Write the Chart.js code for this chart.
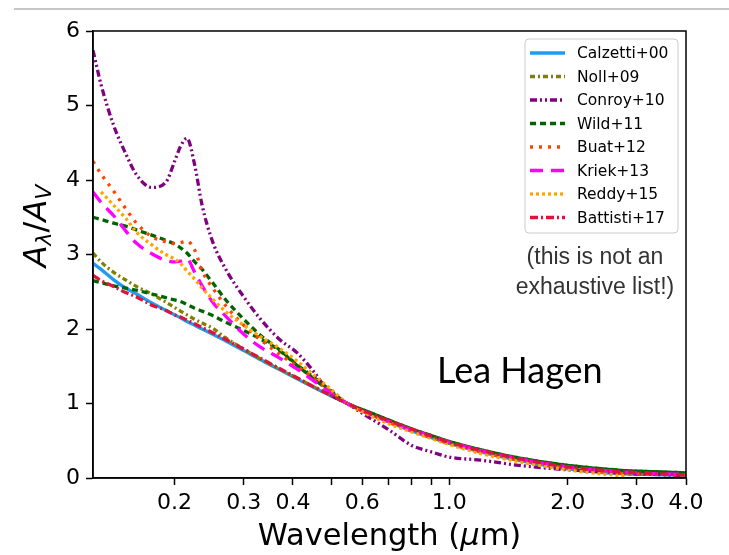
<!DOCTYPE html>
<html lang="en">
<head>
<meta charset="UTF-8">
<title>Attenuation curves</title>
<script src="https://cdn.jsdelivr.net/npm/chart.js@4"></script>
<style>
  body { margin: 0; background: #fff; }
  #wrap { position: relative; width: 729px; height: 555px; }
</style>
</head>
<body>
<div id="wrap"><canvas id="curves"></canvas></div>
<script>
// wavelength grid (micron), shared by all curves
const wavelength = [0.124, 0.13, 0.14, 0.15, 0.16, 0.175, 0.19, 0.2, 0.207, 0.215, 0.225, 0.235, 0.25, 0.27, 0.3, 0.33, 0.37, 0.41, 0.45, 0.5,
                    0.55, 0.6, 0.7, 0.8, 0.9, 1.0, 1.2, 1.5, 2.0, 2.5, 2.8, 3.3, 4.0];

// A_lambda / A_V
const calzetti = [2.88, 2.80, 2.66, 2.55, 2.47, 2.35, 2.25, 2.19, 2.15, 2.10, 2.05, 2.00, 1.93, 1.84, 1.71, 1.59, 1.455, 1.33, 1.22, 1.10,
                  1.00, 0.91, 0.756, 0.634, 0.54, 0.463, 0.35, 0.236, 0.122, 0.07, 0.055, 0.045, 0.035];
const noll     = [3.02, 2.90, 2.76, 2.66, 2.57, 2.47, 2.36, 2.29, 2.24, 2.19, 2.13, 2.08, 2.01, 1.88, 1.73, 1.60, 1.46, 1.34, 1.23, 1.11,
                  1.00, 0.91, 0.76, 0.645, 0.55, 0.47, 0.36, 0.25, 0.14, 0.09, 0.07, 0.06, 0.045];
const conroy   = [5.74, 5.28, 4.73, 4.36, 4.07, 3.90, 3.97, 4.25, 4.45, 4.56, 4.20, 3.66, 3.17, 2.80, 2.43, 2.14, 1.86, 1.68, 1.44, 1.12,
                  1.00, 0.87, 0.65, 0.44, 0.35, 0.28, 0.24, 0.17, 0.11, 0.08, 0.06, 0.05, 0.03];
const wildHigh = [3.50, 3.47, 3.42, 3.38, 3.33, 3.26, 3.19, 3.14, 3.09, 3.02, 2.90, 2.80, 2.62, 2.39, 2.13, 1.92, 1.72, 1.52, 1.36, 1.17,
                  1.00, 0.92, 0.78, 0.66, 0.57, 0.49, 0.38, 0.27, 0.17, 0.12, 0.10, 0.085, 0.07];
const wildLow  = [2.65, 2.62, 2.58, 2.55, 2.52, 2.47, 2.42, 2.39, 2.37, 2.33, 2.28, 2.24, 2.18, 2.09, 1.98, 1.87, 1.71, 1.51, 1.34, 1.15,
                  1.00, 0.92, 0.78, 0.66, 0.57, 0.49, 0.38, 0.27, 0.17, 0.12, 0.10, 0.085, 0.07];
const buat     = [4.25, 4.08, 3.85, 3.62, 3.42, 3.24, 3.17, 3.15, 3.16, 3.18, 3.06, 2.78, 2.55, 2.31, 2.05, 1.86, 1.66, 1.50, 1.34, 1.16,
                  1.00, 0.90, 0.75, 0.63, 0.54, 0.46, 0.35, 0.24, 0.13, 0.08, 0.06, 0.05, 0.04];
const kriek    = [3.84, 3.70, 3.52, 3.32, 3.15, 3.01, 2.92, 2.90, 2.91, 2.94, 2.76, 2.58, 2.36, 2.17, 1.93, 1.76, 1.61, 1.46, 1.31, 1.14,
                  1.00, 0.90, 0.76, 0.65, 0.56, 0.48, 0.37, 0.26, 0.15, 0.10, 0.08, 0.06, 0.05];
const reddy    = [null, 3.84, 3.66, 3.49, 3.30, 3.13, 3.00, 2.94, 2.88, 2.78, 2.67, 2.55, 2.40, 2.23, 2.05, 1.90, 1.74, 1.57, 1.39, 1.19,
                  1.00, 0.89, 0.73, 0.62, 0.53, 0.45, 0.33, 0.22, 0.11, 0.05, 0.03, null, null];
const battisti = [2.72, 2.65, 2.57, 2.49, 2.43, 2.32, 2.25, 2.19, 2.16, 2.12, 2.07, 2.02, 1.95, 1.86, 1.73, 1.61, 1.47, 1.345, 1.23, 1.11,
                  1.00, 0.91, 0.77, 0.66, 0.56, 0.48, 0.37, 0.26, 0.15, 0.10, 0.08, 0.06, 0.04];

const xTicks = [0.2, 0.3, 0.4, 0.5, 0.6, 0.7, 0.8, 0.9, 1.0, 2.0, 3.0, 4.0];
const xTickLabels = ['0.2', '0.3', '0.4', '', '0.6', '', '', '', '1.0', '2.0', '3.0', '4.0'];

const pts = arr => wavelength.map((x, i) => ({ x: x, y: arr[i] }));

const series = [
  { label: 'Calzetti+00', data: calzetti, color: '#1f9cf0', dash: [] },
  { label: 'Noll+09',     data: noll,     color: '#808000', dash: [5, 3, 2, 3] },
  { label: 'Conroy+10',   data: conroy,   color: '#800080', dash: [7, 3, 2, 3, 2, 3] },
  { label: 'Wild+11',     data: wildHigh, color: '#006400', dash: [6, 4] },
  { label: 'Wild+11',     data: wildLow,  color: '#006400', dash: [6, 4], noLegend: true },
  { label: 'Buat+12',     data: buat,     color: '#ff4500', dash: [3, 6] },
  { label: 'Kriek+13',    data: kriek,    color: '#ff00ff', dash: [13, 8] },
  { label: 'Reddy+15',    data: reddy,    color: '#ffa500', dash: [3, 3] },
  { label: 'Battisti+17', data: battisti, color: '#dc143c', dash: [8, 3, 2, 3] }
];

const datasets = series.map((s, i) => ({
  label: s.label,
  data: pts(s.data),
  borderColor: s.color,
  borderDash: s.dash,
  borderWidth: 3.3,
  pointRadius: 0,
  fill: false,
  cubicInterpolationMode: 'monotone',
  order: -i,            // later curves on top, like matplotlib
  noLegend: !!s.noLegend
}));

const decor = {
  id: 'decor',
  beforeDraw(chart) {
    const { ctx, width, height } = chart;
    ctx.save();
    ctx.fillStyle = '#fff';
    ctx.fillRect(0, 0, width, height);
    ctx.strokeStyle = '#c6c6c6';
    ctx.lineWidth = 2;
    ctx.beginPath();
    ctx.moveTo(14, 9);
    ctx.lineTo(width, 9);
    ctx.stroke();
    ctx.restore();
  },
  afterDraw(chart) {
    const { ctx, chartArea: a } = chart;
    ctx.save();
    ctx.strokeStyle = '#000';
    ctx.lineWidth = 1.5;
    ctx.strokeRect(a.left, a.top, a.right - a.left, a.bottom - a.top);

    // legend box
    const bx = a.right - 161, by = a.top + 8, bw = 153, bh = 194;
    ctx.beginPath();
    ctx.roundRect(bx, by, bw, bh, 4);
    ctx.fillStyle = 'rgba(255,255,255,0.8)';
    ctx.fill();
    ctx.strokeStyle = '#cccccc';
    ctx.lineWidth = 1;
    ctx.stroke();
    ctx.font = '15.5px "DejaVu Sans"';
    ctx.textBaseline = 'middle';
    ctx.textAlign = 'left';
    let row = 0;
    chart.data.datasets.forEach(ds => {
      if (ds.noLegend) return;
      const y = by + 14 + row * 23.5;
      ctx.strokeStyle = ds.borderColor;
      ctx.lineWidth = 3.3;
      ctx.setLineDash(ds.borderDash);
      ctx.beginPath();
      ctx.moveTo(bx + 5, y);
      ctx.lineTo(bx + 40, y);
      ctx.stroke();
      ctx.setLineDash([]);
      ctx.fillStyle = '#000';
      ctx.fillText(ds.label, bx + 52, y + 1);
      row++;
    });

    // notes
    ctx.fillStyle = '#333';
    ctx.font = '23px "Liberation Sans"';
    ctx.textAlign = 'center';
    ctx.fillText('(this is not an', a.right - 91, 258);
    ctx.fillText('exhaustive list!)', a.right - 91, 288);
    ctx.fillStyle = '#000';
    ctx.font = '36px Lato';
    ctx.textAlign = 'left';
    ctx.textBaseline = 'alphabetic';
    ctx.fillText('Lea Hagen', 437, 383);

    // x axis title
    ctx.textBaseline = 'middle';
    const cx = (a.left + a.right) / 2, ty = 537;
    const parts = [['Wavelength (', '30.5px "DejaVu Sans"'], ['\u03bc', 'italic 30.5px "DejaVu Sans"'], ['m)', '30.5px "DejaVu Sans"']];
    let total = 0;
    parts.forEach(p => { ctx.font = p[1]; total += ctx.measureText(p[0]).width; });
    let x = cx - total / 2;
    parts.forEach(p => { ctx.font = p[1]; ctx.fillText(p[0], x, ty); x += ctx.measureText(p[0]).width; });

    // y axis title, rotated
    ctx.translate(38, 226);
    ctx.rotate(-Math.PI / 2);
    const yp = [['A', 'italic 32px "DejaVu Sans"', 0], ['\u03bb', 'italic 22px "DejaVu Sans"', 7],
                ['/', '32px "DejaVu Sans"', 0], ['A', 'italic 32px "DejaVu Sans"', 0], ['V', 'italic 22px "DejaVu Sans"', 7]];
    total = 0;
    yp.forEach(p => { ctx.font = p[1]; total += ctx.measureText(p[0]).width; });
    x = -total / 2;
    yp.forEach(p => { ctx.font = p[1]; ctx.fillText(p[0], x, p[2]); x += ctx.measureText(p[0]).width; });
    ctx.restore();
  }
};

new Chart(document.getElementById('curves'), {
  type: 'line',
  data: { datasets: datasets },
  options: {
    responsive: true,
    maintainAspectRatio: false,
    animation: false,
    layout: { padding: { left: 0, right: 43, top: 31, bottom: 0 } },
    plugins: { legend: { display: false }, tooltip: { enabled: false } },
    scales: {
      x: {
        type: 'logarithmic',
        min: 0.124,
        max: 4.0,
        afterBuildTicks: scale => { scale.ticks = xTicks.map(v => ({ value: v })); },
        afterFit: scale => { scale.height = 77; },
        ticks: {
          autoSkip: false,
          maxRotation: 0,
          padding: 5,
          color: '#000',
          font: { family: 'DejaVu Sans', size: 22 },
          callback: value => {
            const i = xTicks.indexOf(value);
            return i >= 0 ? xTickLabels[i] : '';
          }
        },
        grid: { drawOnChartArea: false, tickLength: 7, tickColor: '#000', tickWidth: 1.5 },
        border: { display: true, color: '#000', width: 1.5 }
      },
      y: {
        min: 0,
        max: 6,
        afterFit: scale => { scale.width = 93; },
        ticks: {
          stepSize: 1,
          padding: 6,
          color: '#000',
          font: { family: 'DejaVu Sans', size: 22 }
        },
        grid: { drawOnChartArea: false, tickLength: 7, tickColor: '#000', tickWidth: 1.5 },
        border: { display: true, color: '#000', width: 1.5 }
      }
    }
  },
  plugins: [decor]
});
</script>
</body>
</html>
